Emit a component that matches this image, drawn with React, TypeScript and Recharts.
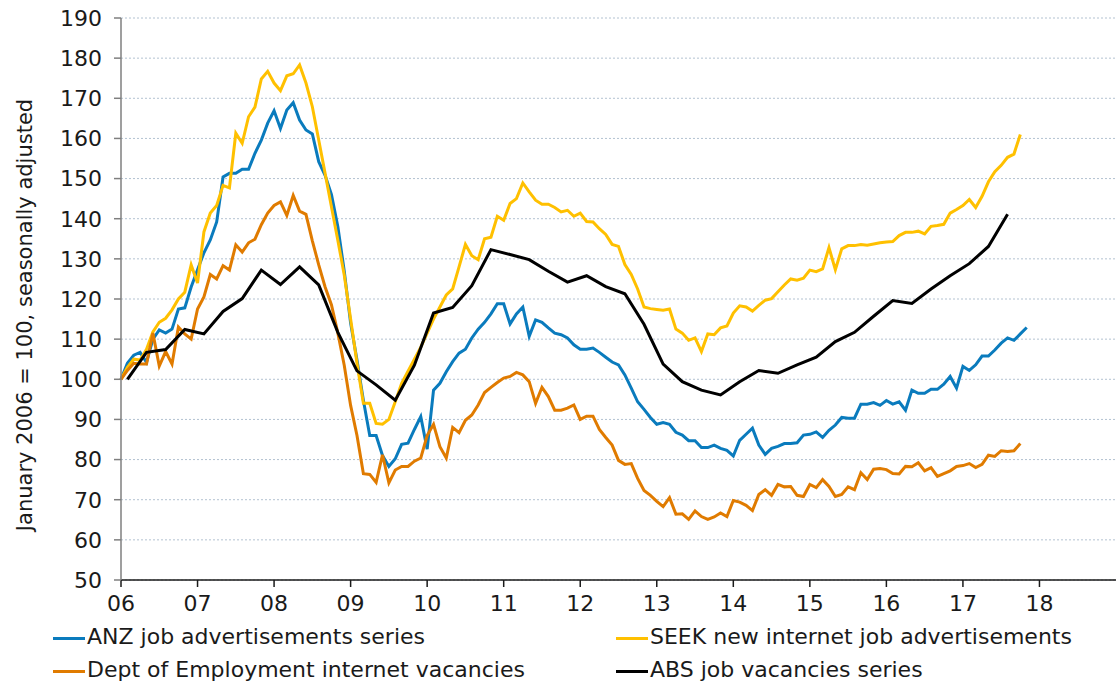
import React from 'react';
import { LineChart, Line, XAxis, YAxis, CartesianGrid, Legend } from 'recharts';

const FONT = '"DejaVu Sans", Verdana, sans-serif';

// x axis: months since January 2006, one tick per year
const yearLabels = ['06', '07', '08', '09', '10', '11', '12', '13', '14', '15', '16', '17', '18'];
const yTicks = [50, 60, 70, 80, 90, 100, 110, 120, 130, 140, 150, 160, 170, 180, 190];

// monthly series, index 0 = January 2006
const anzValues = [
  100, 104, 106, 106.7, 104.2, 110, 112.3, 111.5, 112.5, 117.5, 117.8, 123,
  127.3, 131.5, 134.7, 139.2, 150.4, 151.3, 151.3, 152.3, 152.3, 156.3, 159.6, 163.8,
  166.9, 162.5, 167.1, 168.9, 164.6, 162.1, 161.1, 154.2, 150.8, 146, 138, 127,
  114, 104.8, 94.8, 86, 86, 81, 78.3, 80.2, 83.8, 84.1, 87.5, 90.7,
  82.6, 97.3, 99, 101.9, 104.4, 106.5, 107.5, 110.3, 112.5, 114.2, 116.3, 118.8,
  118.8, 113.8, 116.3, 118, 110.7, 114.8, 114.2, 112.8, 111.5, 111.1, 110.3, 108.6,
  107.5, 107.5, 107.8, 106.7, 105.5, 104.3, 103.6, 101.1, 97.8, 94.4, 92.5, 90.5,
  88.8, 89.2, 88.8, 86.8, 86.1, 84.7, 84.7, 83, 83, 83.6, 82.8, 82.3,
  80.9, 84.8, 86.3, 87.8, 83.6, 81.3, 82.8, 83.3, 84, 84, 84.2, 86.1,
  86.3, 86.9, 85.5, 87.3, 88.6, 90.5, 90.3, 90.3, 93.8, 93.8, 94.2, 93.5,
  94.7, 93.8, 94.4, 92.3, 97.3, 96.5, 96.5, 97.5, 97.5, 98.8, 100.7, 97.8,
  103.2, 102.2, 103.6, 105.8, 105.8, 107.3, 109, 110.3, 109.7, 111.3, 112.9,
];

const seekValues = [
  100, 103, 105, 104.8, 107.5, 111.8, 114.2, 115.2, 117.3, 120, 121.7, 128.5,
  124, 136.7, 141.4, 143.3, 148.3, 147.7, 161.3, 158.8, 165.4, 167.8, 174.8, 176.7,
  173.8, 171.9, 175.6, 176.1, 178.3, 173.8, 167.9, 159.6, 151.3, 142.9, 134.6, 126,
  115, 104, 94, 94, 89, 88.8, 90, 94.4, 99, 102, 105, 108,
  111.5, 115, 118, 121, 122.5, 128, 133.6, 130.8, 129.8, 135, 135.4, 140.6,
  139.6, 143.8, 145, 148.9, 146.7, 144.6, 143.6, 143.6, 142.8, 141.7, 142.1, 140.6,
  141.4, 139.3, 139.2, 137.5, 136.1, 133.6, 133.1, 128.6, 126.1, 122.5, 118, 117.6,
  117.4, 117.2, 117.5, 112.5, 111.5, 109.7, 110.3, 106.9, 111.3, 111.1, 112.8, 113.3,
  116.5, 118.3, 118, 117, 118.4, 119.7, 120.1, 121.8, 123.5, 125, 124.7, 125.2,
  127.2, 126.8, 127.5, 132.8, 127.3, 132.5, 133.3, 133.3, 133.6, 133.4, 133.7, 134,
  134.2, 134.3, 135.8, 136.6, 136.6, 136.9, 136.2, 138.1, 138.3, 138.6, 141.4, 142.3,
  143.3, 144.8, 142.8, 145.6, 149.2, 151.7, 153.3, 155.3, 156.1, 161,
];

const deptValues = [
  100, 102.2, 104, 103.8, 103.8, 111.5, 103.3, 106.9, 103.8, 113, 111.3, 110,
  117.5, 120.5, 126.1, 125, 128.3, 127.2, 133.5, 131.7, 134, 134.9, 138.5, 141.4,
  143.3, 144.2, 140.8, 145.8, 141.9, 141.1, 134.5, 128.5, 123, 118.5, 111.5, 103.5,
  93.5, 86, 76.5, 76.3, 74.3, 81.2, 74.2, 77.4, 78.3, 78.3, 79.6, 80.4,
  86, 88.8, 83.2, 80.4, 88, 86.7, 89.8, 91.1, 93.6, 96.7, 98, 99.2,
  100.3, 100.7, 101.7, 101.1, 99.4, 94, 98, 95.7, 92.3, 92.3, 92.8, 93.6,
  90, 90.8, 90.8, 87.5, 85.5, 83.6, 79.8, 78.8, 79, 75.3, 72.3, 71.1,
  69.6, 68.3, 70.5, 66.4, 66.5, 65.1, 67.2, 65.8, 65.1, 65.7, 66.7, 65.8,
  69.8, 69.4, 68.6, 67.3, 71.3, 72.5, 71.1, 73.8, 73.2, 73.3, 71.1, 70.8,
  73.8, 73, 75, 73.3, 70.8, 71.3, 73.2, 72.5, 76.7, 75, 77.6, 77.8,
  77.5, 76.5, 76.4, 78.3, 78.2, 79.2, 77.2, 78, 75.8, 76.5, 77.2, 78.3,
  78.5, 79, 78, 78.8, 81.1, 80.8, 82.2, 82, 82.2, 84,
];

// quarterly series, plotted at the middle month of each quarter (Feb 2006 onwards)
const absValues = [
  100, 106.7, 107.4, 112.4, 111.3, 116.9, 120.1, 127.2, 123.6, 128, 123.5, 111.7,
  102.1, 98.6, 94.8, 103.5, 116.5, 117.9, 123.3, 132.3, 131.1, 129.8, 126.9, 124.2,
  125.8, 123.1, 121.3, 113.7, 103.8, 99.4, 97.3, 96.1, 99.4, 102.2, 101.5, 103.6,
  105.5, 109.4, 111.7, 115.7, 119.6, 118.9, 122.5, 125.8, 128.8, 133.1, 141.1,
];

const SERIES = [
  { key: 'anz', name: 'ANZ job advertisements series', color: '#0a7bbd' },
  { key: 'seek', name: 'SEEK new internet job advertisements', color: '#ffc000' },
  { key: 'dept', name: 'Dept of Employment internet vacancies', color: '#e07b00' },
  { key: 'abs', name: 'ABS job vacancies series', color: '#000000' },
];

const data = anzValues.map((v, m) => ({
  m,
  anz: v,
  seek: seekValues[m] ?? null,
  dept: deptValues[m] ?? null,
  abs: m % 3 === 1 ? absValues[(m - 1) / 3] ?? null : null,
}));

const yearTicks = yearLabels.map((_, i) => i * 12);

const renderLegend = () => (
  <div style={{ position: 'relative', width: 1116, height: 64, fontFamily: FONT, fontSize: 22, color: '#1a1a1a' }}>
    {SERIES.map((s, i) => (
      <div
        key={s.key}
        style={{
          position: 'absolute',
          left: i % 2 === 0 ? 53 : 616,
          top: i < 2 ? 6 : 39,
          display: 'flex',
          alignItems: 'center',
          whiteSpace: 'nowrap',
          lineHeight: '26px',
        }}
      >
        <span style={{ display: 'inline-block', width: 32, height: 3, background: s.color, marginRight: 2, marginTop: 3 }} />
        <span>{s.name}</span>
      </div>
    ))}
  </div>
);

const renderYTitle = () => (
  <text
    x={25}
    y={315}
    transform="rotate(-90 25 315)"
    textAnchor="middle"
    dominantBaseline="central"
    fontSize={21}
    fill="#1a1a1a"
    fontFamily={FONT}
  >
    January 2006 = 100, seasonally adjusted
  </text>
);

export default function App() {
  return (
    <div style={{ position: 'absolute', left: 0, top: 0, background: '#fff' }}>
      <LineChart
        width={1116}
        height={682}
        data={data}
        margin={{ top: 18, right: 0, bottom: 0, left: 0 }}
        style={{ fontFamily: FONT }}
      >
        <CartesianGrid vertical={false} stroke="#b3c2d1" strokeDasharray="2 2" />
        <XAxis
          type="number"
          dataKey="m"
          domain={[0, 156]}
          ticks={yearTicks}
          interval={0}
          tickFormatter={(v) => yearLabels[v / 12]}
          height={38}
          tickSize={7}
          tickMargin={8}
          axisLine={{ stroke: '#1a1a1a', strokeWidth: 1.5 }}
          tickLine={{ stroke: '#1a1a1a', strokeWidth: 1.5 }}
          tick={{ fill: '#1a1a1a', fontSize: 22 }}
        />
        <YAxis
          domain={[50, 190]}
          ticks={yTicks}
          interval={0}
          width={121}
          tickSize={7}
          tickMargin={12}
          axisLine={{ stroke: '#7f7f7f', strokeWidth: 1.5 }}
          tickLine={{ stroke: '#7f7f7f', strokeWidth: 1.5 }}
          tick={{ fill: '#1a1a1a', fontSize: 22 }}
          label={renderYTitle}
        />
        <Legend verticalAlign="bottom" content={renderLegend} wrapperStyle={{ left: 0, bottom: 0, width: 1116, height: 64 }} />
        {SERIES.map((s) => (
          <Line
            key={s.key}
            type="linear"
            dataKey={s.key}
            name={s.name}
            stroke={s.color}
            strokeWidth={3}
            dot={false}
            connectNulls
            isAnimationActive={false}
          />
        ))}
      </LineChart>
    </div>
  );
}
